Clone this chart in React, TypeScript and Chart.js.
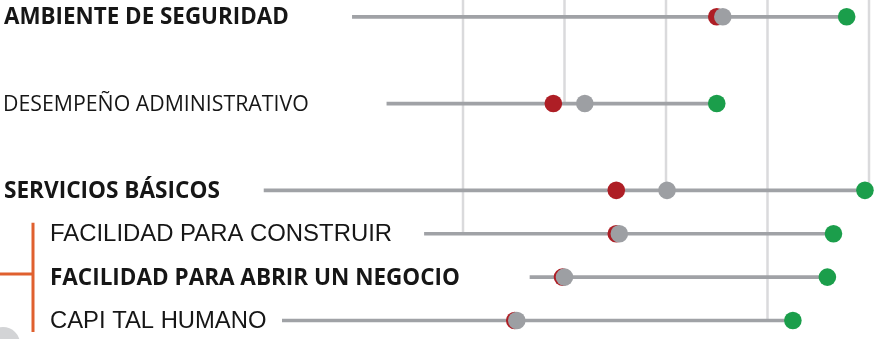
import React, { useEffect, useRef } from "react";
import { Chart, registerables } from "chart.js";

Chart.register(...registerables);

// Rows (empty strings are spacer rows)
const categories = [
  "AMBIENTE DE SEGURIDAD",
  "",
  "DESEMPEÑO ADMINISTRATIVO",
  "",
  "SERVICIOS BÁSICOS",
  "FACILIDAD PARA CONSTRUIR",
  "FACILIDAD PARA ABRIR UN NEGOCIO",
  "CAPI TAL HUMANO",
];
const lineStart = [2.91, null, 3.25, null, 2.04, 3.62, 4.66, 2.22];
const redValues = [6.5, null, 4.89, null, 5.51, 5.51, 4.98, 4.51];
const grayValues = [6.56, null, 5.2, null, 6.01, 5.54, 5.0, 4.53];
const greenValues = [7.78, null, 6.5, null, 7.96, 7.65, 7.59, 7.25];
const gridTicks = [4, 5, 6, 7, 8];
const gridEndRow = [5, 2, 4, 7, 4];

// label styles (not data)
const labelStyles: Record<number, { font: string; x: number }> = {
  0: { font: 'bold 22.4px "Open Sans"', x: 4 },
  2: { font: '21.3px "Open Sans"', x: 3 },
  4: { font: 'bold 22.6px "Open Sans"', x: 4 },
  5: { font: '23.9px "Liberation Sans"', x: 50 },
  6: { font: 'bold 22.5px "Open Sans"', x: 50 },
  7: { font: '23.8px "Liberation Sans"', x: 50 },
};

const RED = "#ae1e25";
const GRAY = "#9d9fa3";
const GREEN = "#1b9e4b";
const LINE = "#a0a2a6";
const GRID = "#dadadc";
const ORANGE = "#e0602e";

const decorPlugin = {
  id: "decor",
  beforeDatasetsDraw(chart: any) {
    const { ctx } = chart;
    const xs = chart.scales.x;
    const ys = chart.scales.y;
    ctx.save();
    ctx.strokeStyle = GRID;
    ctx.lineWidth = 2.5;
    gridTicks.forEach((t, i) => {
      const x = xs.getPixelForValue(t);
      ctx.beginPath();
      ctx.moveTo(x, 0);
      ctx.lineTo(x, ys.getPixelForValue(gridEndRow[i]));
      ctx.stroke();
    });
    ctx.restore();
  },
  afterDraw(chart: any) {
    const { ctx } = chart;
    const ys = chart.scales.y;
    ctx.save();
    // bracket
    const y5 = ys.getPixelForValue(5);
    const y6 = ys.getPixelForValue(6);
    const y7 = ys.getPixelForValue(7);
    ctx.strokeStyle = ORANGE;
    ctx.lineWidth = 3;
    ctx.beginPath();
    ctx.moveTo(33, y5 - 11);
    ctx.lineTo(33, y7 + 11.5);
    ctx.moveTo(0, y6 - 3);
    ctx.lineTo(33, y6 - 3);
    ctx.stroke();
    // decorative circle
    ctx.fillStyle = "#d3d4d6";
    ctx.beginPath();
    ctx.arc(3, 344, 17, 0, Math.PI * 2);
    ctx.fill();
    // labels
    ctx.fillStyle = "#161616";
    ctx.textBaseline = "middle";
    ctx.textAlign = "left";
    categories.forEach((label, i) => {
      if (!label) return;
      const st = labelStyles[i];
      ctx.font = st.font;
      ctx.fillText(label, st.x, ys.getPixelForValue(i) + 1);
    });
    ctx.restore();
  },
};

export default function App() {
  const ref = useRef<HTMLCanvasElement | null>(null);
  useEffect(() => {
    if (!ref.current) return;
    const pointDs = (data: (number | null)[], color: string, order: number) => ({
      type: "line" as const,
      data,
      showLine: false,
      pointRadius: 8.8,
      pointHoverRadius: 8.8,
      pointBackgroundColor: color,
      pointBorderWidth: 0,
      borderWidth: 0,
      borderColor: color,
      backgroundColor: color,
      order,
      clip: false as any,
    });
    const chart = new Chart(ref.current, {
      type: "bar",
      data: {
        labels: categories,
        datasets: [
          {
            type: "bar",
            data: lineStart.map((s, i) => (s == null ? null : [s, greenValues[i] as number])) as any,
            backgroundColor: LINE,
            barThickness: 3,
            order: 10,
            clip: false as any,
          },
          pointDs(redValues, RED, 3),
          pointDs(grayValues, GRAY, 2),
          pointDs(greenValues, GREEN, 1),
        ] as any,
      },
      options: {
        indexAxis: "y",
        animation: false,
        responsive: false,
        maintainAspectRatio: false,
        layout: { autoPadding: false, padding: { top: 16.8, bottom: 18.5, left: 0, right: 0 } },
        plugins: { legend: { display: false }, tooltip: { enabled: false } },
        scales: {
          x: {
            type: "linear",
            min: -0.5616,
            max: 8.0985,
            display: false,
          },
          y: {
            type: "category",
            offset: false,
            display: false,
            grid: { offset: false },
          },
        },
      } as any,
      plugins: [decorPlugin],
    });
    return () => chart.destroy();
  }, []);
  return (
    <div style={{ position: "fixed", left: 0, top: 0, width: 879, height: 339, background: "#fff" }}>
      <canvas ref={ref} width={879} height={339} style={{ width: 879, height: 339 }} />
    </div>
  );
}
